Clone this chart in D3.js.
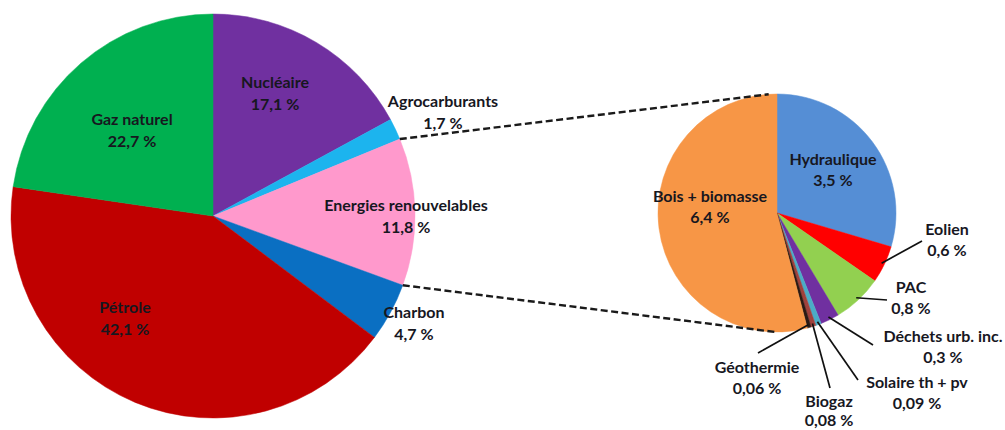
<!DOCTYPE html>
<html><head><meta charset="utf-8">
<script src="https://cdn.jsdelivr.net/npm/d3@7"></script>
<style>
html,body{margin:0;padding:0;background:#fff;}
svg{display:block;}
text{font-family:Lato,"Open Sans",sans-serif;font-weight:700;font-size:16px;fill:#17171f;}
</style></head>
<body>
<svg id="chart" width="1005" height="430"></svg>
<script>
// ---- data ----
const mainCategories = ["Nucléaire","Agrocarburants","Energies renouvelables","Charbon","Pétrole","Gaz naturel"];
const mainValues = [17.1, 1.7, 11.8, 4.7, 42.1, 22.7];
const mainLabels = ["17,1 %","1,7 %","11,8 %","4,7 %","42,1 %","22,7 %"];
const mainColors = ["#7030A0","#1CB4EE","#FF99CC","#0A6FC2","#C00000","#00B050"];

const renCategories = ["Hydraulique","Eolien","PAC","Déchets urb. inc.","Solaire th + pv","Biogaz","Géothermie","Bois + biomasse"];
const renValues = [3.5, 0.6, 0.8, 0.3, 0.09, 0.08, 0.06, 6.4];
const renLabels = ["3,5 %","0,6 %","0,8 %","0,3 %","0,09 %","0,08 %","0,06 %","6,4 %"];
const renColors = ["#558ED5","#FF0000","#92D050","#7030A0","#4BACC6","#A0413C","#2B1A14","#F79646"];

// ---- layout ----
const main = {cx:213, cy:216, r:202};
const ren = {cx:777, cy:213, r:119};
// label anchor (center x, first-line baseline y) ; leader end for outside labels
const mainLabelPos = [
  {x:275, y:88}, {x:443, y:107}, {x:406, y:211}, {x:414, y:318}, {x:125, y:313}, {x:132, y:125}
];
const renLabelPos = [
  {x:833, y:165}, {x:947, y:235, lx:922, ly:241}, {x:911, y:293, lx:887, ly:300},
  {x:943, y:342, lx:873, ly:345}, {x:917, y:388, lx:858, ly:380},
  {x:829, y:407, lx:830, ly:388}, {x:757, y:373, lx:758, ly:353},
  {x:710, y:202}
];

const svg = d3.select("#chart");
const pie = d3.pie().sort(null).value(d => d);

function drawPie(cfg, values, colors){
  const arcs = pie(values);
  const arc = d3.arc().innerRadius(0).outerRadius(cfg.r);
  const g = svg.append("g").attr("transform", `translate(${cfg.cx},${cfg.cy})`);
  g.selectAll("path").data(arcs).join("path")
    .attr("d", arc).attr("fill", (d,i) => colors[i])
    .attr("stroke", (d,i) => colors[i]).attr("stroke-width", 0.5);
  return arcs;
}

const mainArcs = drawPie(main, mainValues, mainColors);
const renArcs = drawPie(ren, renValues, renColors);

function pt(cfg, angle, r){
  return [cfg.cx + r*Math.sin(angle), cfg.cy - r*Math.cos(angle)];
}

// dashed connector lines
const agroEnd = mainArcs[1].endAngle, renEnd = mainArcs[2].endAngle;
const conn = [
  [pt(main, agroEnd, main.r), pt(ren, -0.07, ren.r)],
  [pt(main, renEnd, main.r), pt(ren, Math.PI*1.005, ren.r)]
];
svg.selectAll("line.conn").data(conn).join("line")
  .attr("class","conn")
  .attr("x1", d=>d[0][0]).attr("y1", d=>d[0][1])
  .attr("x2", d=>d[1][0]).attr("y2", d=>d[1][1])
  .attr("stroke","#1a1a1a").attr("stroke-width",2.4).attr("stroke-dasharray","7,3.5");

// leader lines for small slices
renArcs.forEach((a,i) => {
  const p = renLabelPos[i];
  if (p.lx === undefined) return;
  const mid = (a.startAngle + a.endAngle)/2;
  const s = pt(ren, mid, ren.r - 3);
  svg.append("line").attr("x1", s[0]).attr("y1", s[1]).attr("x2", p.lx).attr("y2", p.ly)
    .attr("stroke","#111").attr("stroke-width",1.7);
});

function label(x, y, l1, l2, gap){
  const t = svg.append("text").attr("text-anchor","middle");
  t.append("tspan").attr("x", x).attr("y", y).text(l1);
  t.append("tspan").attr("x", x).attr("y", y + gap).text(l2);
}
mainCategories.forEach((c,i) => label(mainLabelPos[i].x, mainLabelPos[i].y, c, mainLabels[i], 22));
renCategories.forEach((c,i) => label(renLabelPos[i].x, renLabelPos[i].y, c, renLabels[i], i===5 ? 19 : 21));
</script>
</body></html>
